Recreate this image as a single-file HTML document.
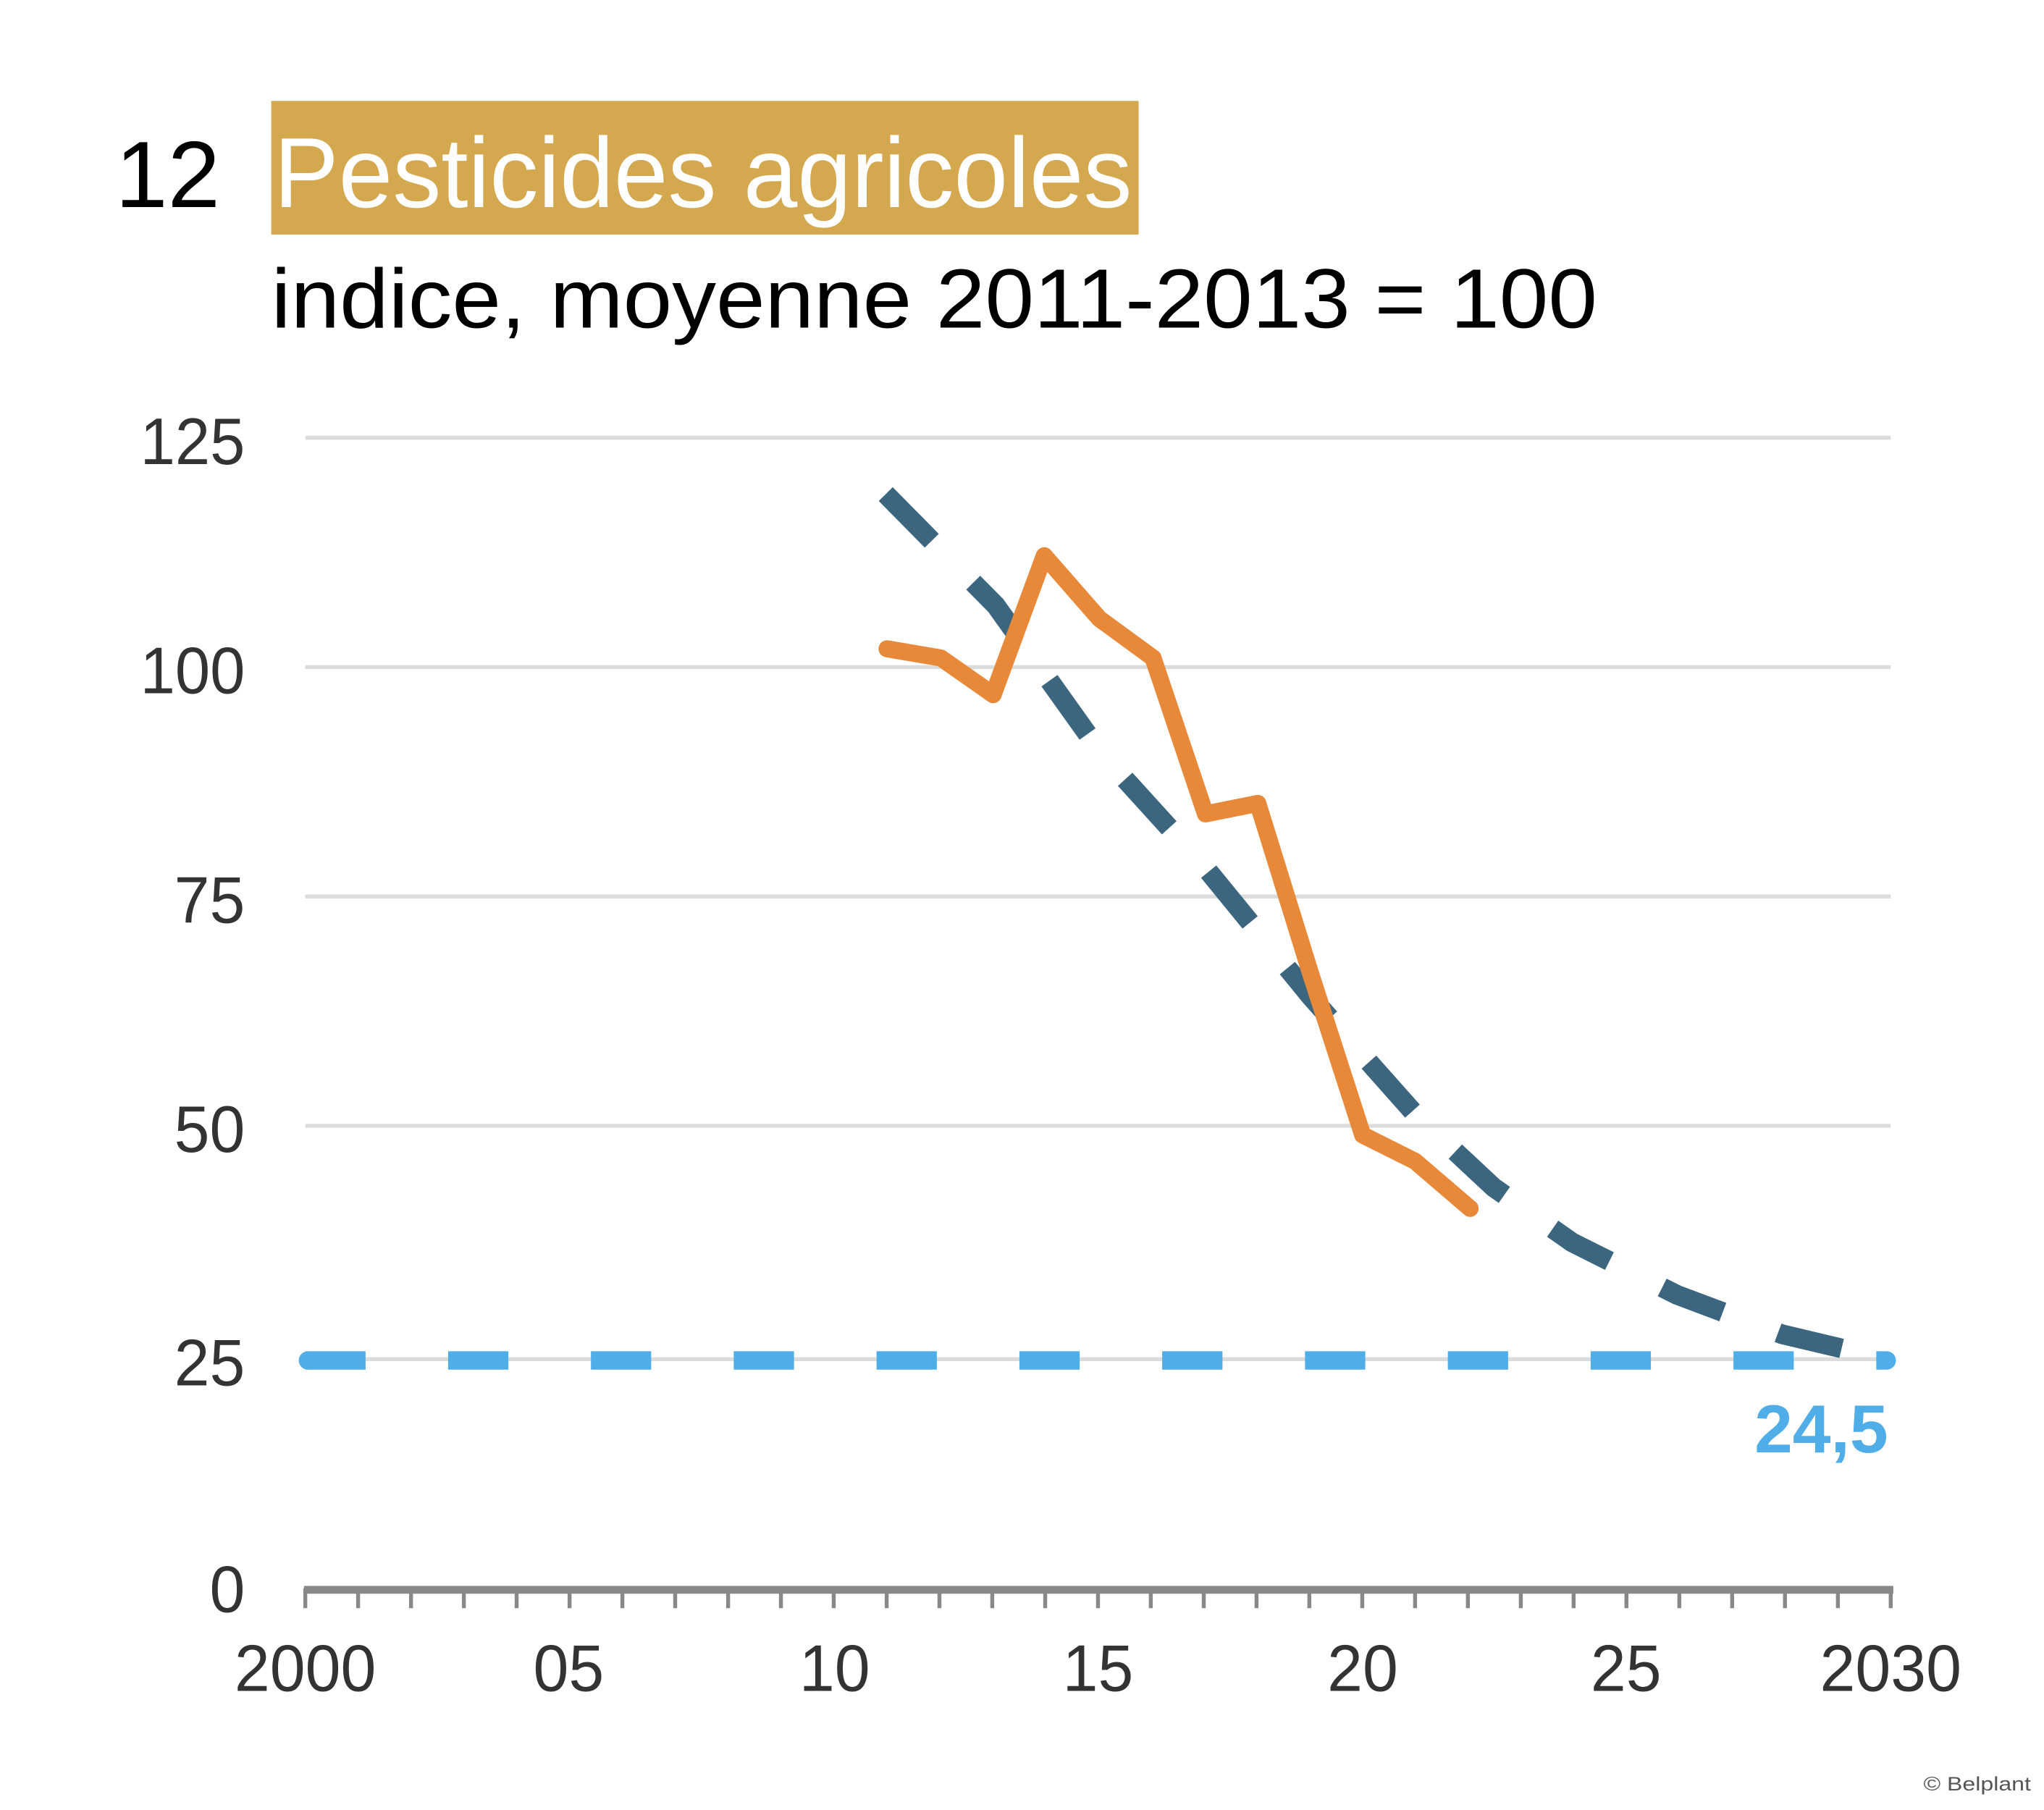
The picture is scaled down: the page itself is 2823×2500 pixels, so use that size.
<!DOCTYPE html>
<html><head><meta charset="utf-8"><style>
html,body{margin:0;padding:0;background:#fff;}
svg{display:block;}
</style></head><body>
<svg width="2823" height="2500" viewBox="0 0 1560 1381" preserveAspectRatio="none" xmlns="http://www.w3.org/2000/svg" font-family="'Liberation Sans', sans-serif">
<rect x="0" y="0" width="1560" height="1381" fill="#fff"/>
<rect x="207" y="77" width="662" height="102" fill="#D4A84F"/>
<text x="88" y="158" font-size="72" fill="#000" textLength="80" lengthAdjust="spacingAndGlyphs">12</text>
<text x="209" y="158" font-size="76" fill="#fff" textLength="655" lengthAdjust="spacingAndGlyphs">Pesticides agricoles</text>
<text x="207" y="250" font-size="64" fill="#000" textLength="1012" lengthAdjust="spacingAndGlyphs">indice, moyenne 2011-2013 = 100</text>
<g stroke="#dcdcdc" stroke-width="3">
<line x1="233" y1="334" x2="1443" y2="334"/>
<line x1="233" y1="509" x2="1443" y2="509"/>
<line x1="233" y1="684" x2="1443" y2="684"/>
<line x1="233" y1="859" x2="1443" y2="859"/>
<line x1="233" y1="1037" x2="1443" y2="1037"/>
</g>
<g font-size="50" fill="#333" text-anchor="end">
<text x="187" y="354" textLength="80" lengthAdjust="spacingAndGlyphs">125</text>
<text x="187" y="529" textLength="80" lengthAdjust="spacingAndGlyphs">100</text>
<text x="187" y="704" textLength="54" lengthAdjust="spacingAndGlyphs">75</text>
<text x="187" y="879" textLength="54" lengthAdjust="spacingAndGlyphs">50</text>
<text x="187" y="1057" textLength="54" lengthAdjust="spacingAndGlyphs">25</text>
<text x="187" y="1230" textLength="27" lengthAdjust="spacingAndGlyphs">0</text>
</g>
<line x1="232" y1="1213" x2="1445" y2="1213" stroke="#888" stroke-width="6"/>
<g stroke="#888" stroke-width="3">
<line x1="233.0" y1="1212" x2="233.0" y2="1227"/><line x1="273.3" y1="1212" x2="273.3" y2="1227"/><line x1="313.7" y1="1212" x2="313.7" y2="1227"/><line x1="354.0" y1="1212" x2="354.0" y2="1227"/><line x1="394.3" y1="1212" x2="394.3" y2="1227"/><line x1="434.7" y1="1212" x2="434.7" y2="1227"/><line x1="475.0" y1="1212" x2="475.0" y2="1227"/><line x1="515.3" y1="1212" x2="515.3" y2="1227"/><line x1="555.7" y1="1212" x2="555.7" y2="1227"/><line x1="596.0" y1="1212" x2="596.0" y2="1227"/><line x1="636.3" y1="1212" x2="636.3" y2="1227"/><line x1="676.7" y1="1212" x2="676.7" y2="1227"/><line x1="717.0" y1="1212" x2="717.0" y2="1227"/><line x1="757.3" y1="1212" x2="757.3" y2="1227"/><line x1="797.7" y1="1212" x2="797.7" y2="1227"/><line x1="838.0" y1="1212" x2="838.0" y2="1227"/><line x1="878.3" y1="1212" x2="878.3" y2="1227"/><line x1="918.7" y1="1212" x2="918.7" y2="1227"/><line x1="959.0" y1="1212" x2="959.0" y2="1227"/><line x1="999.3" y1="1212" x2="999.3" y2="1227"/><line x1="1039.7" y1="1212" x2="1039.7" y2="1227"/><line x1="1080.0" y1="1212" x2="1080.0" y2="1227"/><line x1="1120.3" y1="1212" x2="1120.3" y2="1227"/><line x1="1160.7" y1="1212" x2="1160.7" y2="1227"/><line x1="1201.0" y1="1212" x2="1201.0" y2="1227"/><line x1="1241.3" y1="1212" x2="1241.3" y2="1227"/><line x1="1281.7" y1="1212" x2="1281.7" y2="1227"/><line x1="1322.0" y1="1212" x2="1322.0" y2="1227"/><line x1="1362.3" y1="1212" x2="1362.3" y2="1227"/><line x1="1402.7" y1="1212" x2="1402.7" y2="1227"/><line x1="1443.0" y1="1212" x2="1443.0" y2="1227"/>
</g>
<g font-size="50" fill="#333" text-anchor="middle">
<text x="233" y="1290" textLength="108" lengthAdjust="spacingAndGlyphs">2000</text>
<text x="434" y="1290" textLength="54" lengthAdjust="spacingAndGlyphs">05</text>
<text x="637" y="1290" textLength="54" lengthAdjust="spacingAndGlyphs">10</text>
<text x="838" y="1290" textLength="54" lengthAdjust="spacingAndGlyphs">15</text>
<text x="1040" y="1290" textLength="54" lengthAdjust="spacingAndGlyphs">20</text>
<text x="1241" y="1290" textLength="54" lengthAdjust="spacingAndGlyphs">25</text>
<text x="1443" y="1290" textLength="108" lengthAdjust="spacingAndGlyphs">2030</text>
</g>
<line x1="233" y1="1038" x2="1440" y2="1038" stroke="#4FADE8" stroke-width="14" stroke-dasharray="46 63" stroke-linecap="butt"/>
<circle cx="235" cy="1038" r="7" fill="#4FADE8"/>
<circle cx="1440" cy="1038" r="7" fill="#4FADE8"/>
<polyline points="676,377 760,462 840,574 920,662 1000,760 1080,850 1140,906 1200,948 1280,988 1360,1018 1440,1037" fill="none" stroke="#3C6680" stroke-width="15" stroke-dasharray="50 45" stroke-linejoin="round"/>
<polyline points="677,495 718,502 758,530 797,424 839,472 880,502 920,621 960,613 1000,742 1040,866 1080,886 1122,922" fill="none" stroke="#E8893A" stroke-width="13" stroke-linejoin="round" stroke-linecap="round"/>
<text x="1441" y="1108" font-size="52" font-weight="bold" fill="#4FADE8" text-anchor="end" textLength="102" lengthAdjust="spacingAndGlyphs">24,5</text>
<text x="1468" y="1366" font-size="15" fill="#555" textLength="82" lengthAdjust="spacingAndGlyphs">© Belplant</text>
</svg>
</body></html>
